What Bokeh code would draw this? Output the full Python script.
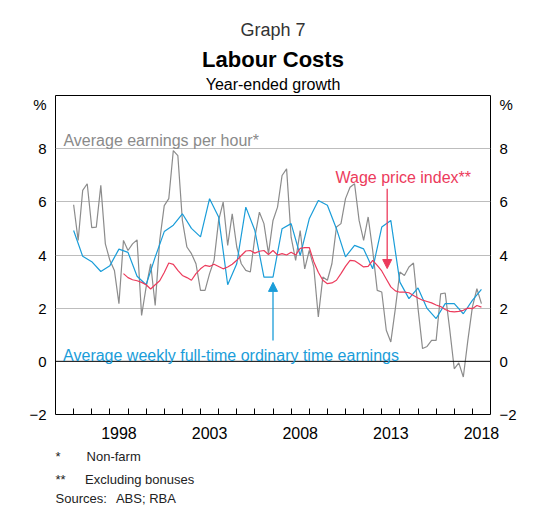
from bokeh.plotting import figure
from bokeh.models import (Range1d, FixedTicker, LinearAxis, Label, Arrow, NormalHead, Span, Title)
from bokeh.embed import file_html
from bokeh.resources import INLINE

# ---- data (year-ended growth, %) ----
START_YEAR = 1996.0
EARN_HOUR = [5.89, 4.55, 6.43, 6.68, 5.03, 5.05, 6.62, 4.42, 3.80, 3.42,
             2.17, 4.55, 4.17, 4.42, 4.57, 1.73, 2.79, 3.67, 2.10, 4.55,
             5.86, 6.12, 7.93, 7.74, 5.30, 4.30, 4.05, 3.67, 2.67, 2.67,
             3.30, 3.80, 5.30, 5.99, 4.36, 5.55, 4.30, 3.67, 3.42, 3.36,
             4.67, 5.61, 5.18, 4.05, 5.30, 5.80, 6.99, 7.24, 4.67, 3.80,
             4.92, 3.48, 4.17, 3.55, 1.67, 3.17, 3.05, 3.67, 5.05, 5.18,
             6.12, 6.55, 6.68, 5.30, 4.55, 5.43, 4.17, 2.67, 2.61, 1.17,
             0.73, 1.98, 3.36, 3.23, 3.55, 3.70, 2.00, 0.48, 0.56, 0.79,
             0.79, 2.54, 2.57, 1.20, -0.28, -0.06, -0.59, 0.79, 2.04, 2.73,
             2.17]
WPI_START_Q = 11
WPI = [3.30, 3.15, 3.07, 3.03, 2.97, 2.88, 2.72, 2.88, 3.03, 3.34,
       3.70, 3.65, 3.42, 3.23, 3.15, 3.05, 3.30, 3.48, 3.61, 3.57,
       3.65, 3.57, 3.48, 3.55, 3.65, 3.80, 3.98, 4.15, 4.17, 4.07,
       4.14, 4.17, 4.02, 4.17, 4.00, 4.05, 4.00, 4.10, 4.00, 4.25,
       4.28, 4.28, 3.75, 3.35, 3.05, 2.92, 2.95, 3.05, 3.30, 3.57,
       3.80, 3.78, 3.67, 3.55, 3.57, 3.80, 3.61, 3.40, 3.10, 2.80,
       2.65, 2.60, 2.60, 2.58, 2.48, 2.38, 2.30, 2.25, 2.20, 2.12,
       2.06, 1.95, 1.88, 1.86, 1.88, 1.92, 2.00, 1.98, 2.10, 2.04]
AWOTE = [4.92, 3.95, 3.75, 3.38, 3.60, 4.22, 4.10, 3.20, 2.88, 3.92,
         4.88, 5.12, 5.55, 5.00, 4.68, 6.12, 5.43, 2.88, 3.67, 5.80,
         4.92, 3.17, 3.17, 4.99, 5.18, 3.98, 5.36, 6.05, 5.87, 4.99,
         3.93, 4.36, 4.23, 3.48, 5.05, 5.30, 2.98, 2.36, 2.76, 1.99,
         1.61, 2.17, 2.17, 1.79, 2.29, 2.71]
YEAR_LABELS = ["1998", "2003", "2008", "2013", "2018"]
Y_TICKS = [-2, 0, 2, 4, 6, 8]

x_earn = [START_YEAR + k / 4 for k in range(len(EARN_HOUR))]
x_wpi = [START_YEAR + (WPI_START_Q + k) / 4 for k in range(len(WPI))]
x_awote = [START_YEAR + k / 2 for k in range(len(AWOTE))]

GREY = "#8c8c8c"
BLUE = "#1a9dd9"
RED = "#ec3b5c"
FONT = "Liberation Sans"

p = figure(width=540, height=512, x_range=Range1d(1995, 2019), y_range=Range1d(-2, 10),
           output_backend="svg", toolbar_location=None,
           min_border_left=55, min_border_right=50, min_border_top=95, min_border_bottom=98)
p.title.visible = False
p.outline_line_color = "black"
p.outline_line_width = 1
p.background_fill_color = "white"
p.border_fill_color = "white"

# axes
pct_tick = 9.66
yticks = FixedTicker(ticks=Y_TICKS + [pct_tick])
overrides = {pct_tick: "%"}
yax = p.yaxis[0]
yax.ticker = yticks
yax.major_label_overrides = overrides
rax = LinearAxis(ticker=yticks, major_label_overrides=overrides)
p.add_layout(rax, "right")
for ax in (yax, rax):
    ax.axis_line_color = None
    ax.major_tick_line_color = None
    ax.minor_tick_line_color = None
    ax.major_label_text_font = FONT
    ax.major_label_text_font_size = "15px"
    ax.major_label_text_color = "black"
    ax.major_label_standoff = 3

xax = p.xaxis[0]
mids = [int(s) + 0.5 for s in YEAR_LABELS]
xax.ticker = FixedTicker(ticks=mids, minor_ticks=list(range(1996, 2019)))
xax.major_label_overrides = {m: s for m, s in zip(mids, YEAR_LABELS)}
xax.axis_line_color = None
xax.major_tick_line_color = None
xax.minor_tick_in = 6
xax.minor_tick_out = 0
xax.minor_tick_line_color = "black"
xax.major_label_text_font = FONT
xax.major_label_text_font_size = "16px"
xax.major_label_text_color = "black"
xax.major_label_standoff = 6

p.xgrid.visible = False
p.ygrid.ticker = FixedTicker(ticks=[2, 4, 6, 8])
p.ygrid.grid_line_color = "#bdbdbd"
p.ygrid.grid_line_width = 1
p.add_layout(Span(location=0, dimension="width", line_color="black", line_width=1))

# series
p.line(x_earn, EARN_HOUR, line_color=GREY, line_width=1.2)
p.line(x_awote, AWOTE, line_color=BLUE, line_width=1.2)
p.line(x_wpi, WPI, line_color=RED, line_width=1.2)

# series labels & arrows
p.add_layout(Label(x=1995.44, y=8.31, text="Average earnings per hour*", text_font=FONT,
                   text_font_size="16px", text_color="#8a8a8a", text_baseline="alphabetic"))
p.add_layout(Label(x=2010.45, y=6.90, text="Wage price index**", text_font=FONT,
                   text_font_size="16px", text_color=RED, text_baseline="alphabetic"))
p.add_layout(Label(x=1995.42, y=0.22, text="Average weekly full-time ordinary time earnings",
                   text_font=FONT, text_font_size="16px", text_color=BLUE, text_baseline="alphabetic"))
p.add_layout(Arrow(x_start=2013.3, y_start=6.49, x_end=2013.3, y_end=3.49, line_color=RED,
                   line_width=1.3, end=NormalHead(size=9, fill_color=RED, line_color=RED)))
p.add_layout(Arrow(x_start=2007.0, y_start=0.78, x_end=2007.0, y_end=2.97, line_color=BLUE,
                   line_width=1.3, end=NormalHead(size=9, fill_color=BLUE, line_color=BLUE)))

# titles (stacked outward from the frame)
for txt, size, style, color, so in [("Year-ended growth", "16px", "normal", "black", 5),
                                    ("Labour Costs", "22px", "bold", "black", 0),
                                    ("Graph 7", "18px", "normal", "#333333", 10)]:
    p.add_layout(Title(text=txt, align="center", text_font=FONT, text_font_size=size,
                       text_font_style=style, text_color=color, standoff=so), "above")

# footnotes (stacked downward below the x axis)
NB = "\u2003"
for txt, so in [("*" + NB + NB + "Non-farm", 11),
                ("**" + NB + "\u2002Excluding bonuses", 0),
                ("Sources:\u2002\u2009ABS; RBA", 4)]:
    p.add_layout(Title(text=txt, align="left", text_font=FONT, text_font_size="13px",
                       text_font_style="normal", text_color="#222222", standoff=so), "below")

open("out.html", "w").write(file_html(p, INLINE))
